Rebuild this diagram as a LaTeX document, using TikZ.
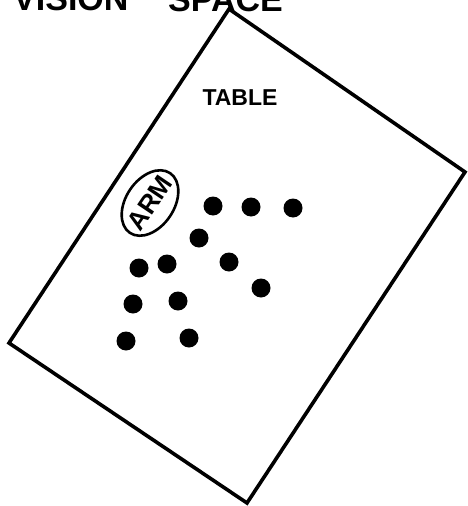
\documentclass[tikz,border=0pt]{standalone}
\usepackage{fontspec}
\setmainfont{Liberation Sans}
\usepackage{tikz}
\usetikzlibrary{shapes.geometric}

\begin{document}
\begin{tikzpicture}[x=1pt,y=-1pt,
  dot/.style={circle,fill=black,inner sep=0pt,minimum size=19pt},
  lbl/.style={font=\bfseries\fontsize{#1}{#1}\selectfont,inner sep=0pt}]
\useasboundingbox (0,0) rectangle (467,506);
% title, cut off at the top
\node[lbl=34,anchor=base west] (vision) at (13,10) {VISION};
\node[lbl=34,anchor=base west] (space) at (168,11) {SPACE};
% the table
\coordinate (tn) at (229,9);
\coordinate (te) at (465,172);
\coordinate (ts) at (247,503);
\coordinate (tw) at (9,343);
\draw[line width=3.6pt] (tn) -- (te) -- (ts) -- (tw) -- cycle;
\node[lbl=23,anchor=base] (table) at (240,105) {TABLE};
% the arm
\node[draw,line width=2.6pt,ellipse,rotate=56,minimum width=72pt,minimum height=48pt,
      lbl=26,inner xsep=-8pt] (arm) at (150,203) {ARM};
% objects on the table
\foreach \i/\x/\y in {1/213/206, 2/251/207, 3/293/208, 4/199/238, 5/229/262, 6/139/268,
                      7/167/264, 8/261/288, 9/133/304, 10/178/301, 11/126/341, 12/189/338}
  \node[dot] (d\i) at (\x,\y) {};
\end{tikzpicture}
\end{document}
